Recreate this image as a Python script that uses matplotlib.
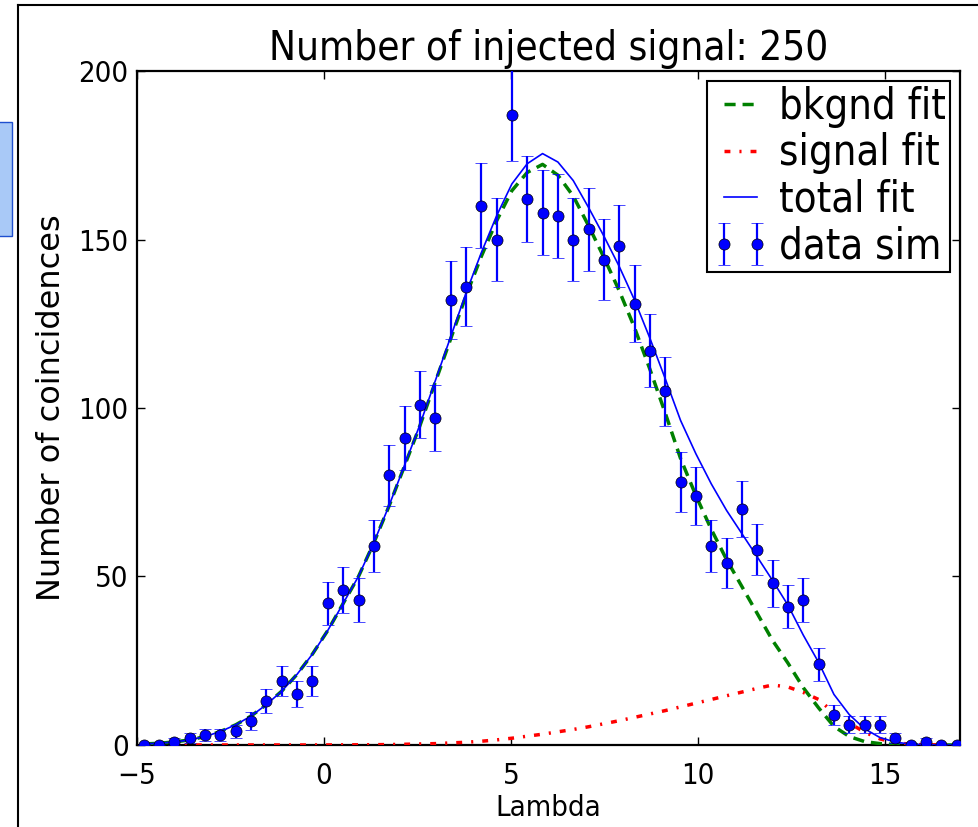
import numpy as np
import matplotlib
matplotlib.use('Agg')
import matplotlib.pyplot as plt
from matplotlib.lines import Line2D
from matplotlib.patches import Rectangle

# DATA
lam = [-4.82, -4.41, -4.00, -3.59, -3.18, -2.77, -2.36, -1.95, -1.54, -1.13,
       -0.72, -0.31, 0.10, 0.51, 0.92, 1.33, 1.74, 2.15, 2.56, 2.97,
       3.38, 3.79, 4.20, 4.61, 5.02, 5.43, 5.84, 6.25, 6.66, 7.07,
       7.48, 7.89, 8.30, 8.71, 9.12, 9.53, 9.94, 10.35, 10.76, 11.17,
       11.58, 11.99, 12.40, 12.81, 13.22, 13.63, 14.04, 14.45, 14.86, 15.27,
       15.68, 16.09, 16.50, 16.91]

counts = [0, 0, 1, 2, 3, 3, 4, 7, 13, 19,
          15, 19, 42, 46, 43, 59, 80, 91, 101, 97,
          132, 136, 160, 150, 187, 162, 158, 157, 150, 153,
          144, 148, 131, 117, 105, 78, 74, 59, 54, 70,
          58, 48, 41, 43, 24, 9, 6, 6, 6, 2,
          0, 1, 0, 0]

bkgnd = [0.3, 0.5, 0.9, 1.5, 2.5, 4.0, 6.0, 8.6, 12.0, 16.0,
         21.0, 27.0, 34.0, 42.0, 50.0, 60.0, 71.0, 82.8, 94.7, 107.6,
         120.4, 133.2, 144.9, 155.5, 164.5, 169.9, 172.3, 169.1, 162.9, 154.1,
         144.7, 134.8, 123.8, 111.5, 98.5, 85.0, 74.0, 64.0, 55.0, 47.0,
         39.0, 31.0, 24.3, 17.0, 11.0, 5.5, 2.5, 1.0, 0.4, 0.15,
         0.05, 0.0, 0.0, 0.0]

signal = [0, 0, 0, 0, 0, 0, 0, 0, 0, 0,
          0, 0, 0.01, 0.03, 0.05, 0.08, 0.12, 0.2, 0.3, 0.4,
          0.6, 0.8, 1.1, 1.5, 2.0, 2.6, 3.2, 3.9, 4.6, 5.4,
          6.3, 7.2, 8.2, 9.2, 10.2, 11.3, 12.4, 13.5, 14.6, 15.7,
          16.8, 17.8, 17.2, 15.6, 13.5, 9.5, 6.5, 3.8, 1.8, 0.7,
          0.2, 0.05, 0.0, 0.0]

lam = np.array(lam)
counts = np.array(counts, dtype=float)
bkgnd = np.array(bkgnd)
signal = np.array(signal)
total = bkgnd + signal
errs = np.sqrt(counts)

plt.rcParams['font.family'] = 'DejaVu Sans'
plt.rcParams['font.stretch'] = 'condensed'

fig = plt.figure(figsize=(9.79, 8.27), dpi=100)
ax = fig.add_axes([0.140, 0.0992, 0.8406, 0.8149])

ax.plot(lam, bkgnd, color='green', lw=2.5, linestyle=(0, (3.2, 2.0)),
        label='bkgnd fit', zorder=3)
ax.plot(lam, signal, color='red', lw=2.5, linestyle=(0, (1.7, 2.6, 0.6, 2.6)),
        label='signal fit', zorder=3)
ax.plot(lam, total, color='blue', lw=1.2, label='total fit', zorder=3)
ax.errorbar(lam, counts, yerr=errs, fmt='o', color='blue', ms=8,
            mec='k', mew=0.5, elinewidth=1.6, capsize=4, capthick=1.6,
            label='data sim', zorder=4)

ax.set_xlim(-5, 17)
ax.set_ylim(0, 200)
ax.set_xticks([-5, 0, 5, 10, 15])
ax.set_yticks([0, 50, 100, 150, 200])
ax.tick_params(direction='in', top=True, right=True, length=6, width=1,
               labelsize=21)
ax.tick_params(axis='x', pad=12)
ax.tick_params(axis='y', pad=6)
for sp in ax.spines.values():
    sp.set_linewidth(1.6)

ax.set_xlabel('Lambda', fontsize=21, labelpad=3)
ax.set_ylabel('Number of coincidences', fontsize=23, labelpad=8,
              fontstretch='normal')
ax.set_title('Number of injected signal: 250', fontsize=29, pad=8)

leg = ax.legend(loc='upper right', fontsize=30, numpoints=2, handlelength=1.4,
                handletextpad=0.22, borderpad=0.1, labelspacing=0.11,
                fancybox=False, framealpha=1, borderaxespad=0.25)
leg.get_frame().set_edgecolor('black')
leg.get_frame().set_linewidth(1.5)

# screenshot frame bits
fig.add_artist(Line2D([18 / 979, 1], [1 - 5 / 827, 1 - 5 / 827],
                      transform=fig.transFigure, color='black', lw=1.5))
fig.add_artist(Line2D([18 / 979, 18 / 979], [0, 1 - 5 / 827],
                      transform=fig.transFigure, color='black', lw=1.5))
fig.add_artist(Rectangle((-2 / 979, 1 - 236 / 827), 14 / 979, 114 / 827,
                         transform=fig.transFigure, facecolor='#a9c9f7',
                         edgecolor='#1f4fcf', lw=1))

fig.savefig('out.png', dpi=100, facecolor='white')
